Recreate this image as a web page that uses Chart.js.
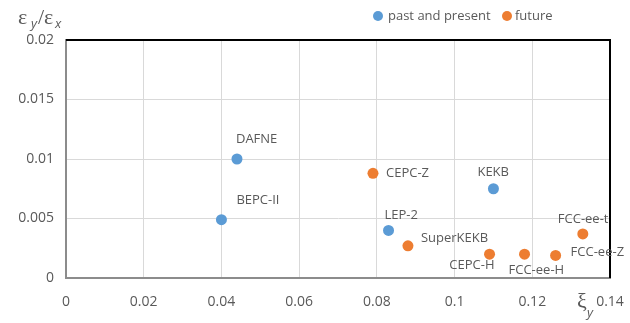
<!DOCTYPE html>
<html>
<head>
<meta charset="utf-8">
<script src="https://cdn.jsdelivr.net/npm/chart.js@4.4.0/dist/chart.umd.min.js"></script>
<style>
html, body { margin: 0; padding: 0; background: #fff; }
#contenedor { width: 630px; height: 323px; }
</style>
</head>
<body>
<div id="contenedor"><canvas id="grafico"></canvas></div>
<script>
// datos
var series = ["past and present", "future"];
var colores = ["#5B9BD5", "#ED7D31"];

var nombresPasado = ["DAFNE", "BEPC-II", "KEKB", "LEP-2"];
var xiPasado = [0.044, 0.040, 0.110, 0.083];
var epsPasado = [0.0100, 0.0049, 0.0075, 0.0040];

var nombresFuturo = ["CEPC-Z", "SuperKEKB", "CEPC-H", "FCC-ee-H", "FCC-ee-Z", "FCC-ee-t"];
var xiFuturo = [0.079, 0.088, 0.109, 0.118, 0.126, 0.133];
var epsFuturo = [0.0088, 0.0027, 0.0020, 0.0020, 0.0019, 0.0037];

var ticksX = [0, 0.02, 0.04, 0.06, 0.08, 0.1, 0.12, 0.14];
var ticksY = [0, 0.005, 0.01, 0.015, 0.02];

// desplazamiento de cada etiqueta respecto a su punto: [dx, dy, alineacion]
var posEtiquetas = {
    "DAFNE": [-1, -20, "left"],
    "BEPC-II": [15, -19, "left"],
    "KEKB": [-16, -16, "left"],
    "LEP-2": [-4, -15, "left"],
    "CEPC-Z": [13, 0, "left"],
    "SuperKEKB": [13, -8, "left"],
    "CEPC-H": [5, 11, "right"],
    "FCC-ee-H": [-16, 16, "left"],
    "FCC-ee-Z": [15, -3, "left"],
    "FCC-ee-t": [-25, -15, "left"]
};

var gris = "#595959";
var fuente = '"Open Sans", "Noto Sans", sans-serif';

function puntos(xs, ys) {
    return xs.map(function (x, i) { return { x: x, y: ys[i] }; });
}

var extras = {
    id: "extras",
    afterDraw: function (chart) {
        var ctx = chart.ctx;
        var a = chart.chartArea;
        ctx.save();

        // marco superior y derecho
        ctx.strokeStyle = "#000";
        ctx.lineWidth = 2;
        ctx.beginPath();
        ctx.moveTo(a.left, a.top);
        ctx.lineTo(a.right, a.top);
        ctx.lineTo(a.right, a.bottom);
        ctx.stroke();

        // etiquetas de los puntos
        var nombres = [nombresPasado, nombresFuturo];
        ctx.font = "13px " + fuente;
        ctx.fillStyle = gris;
        ctx.textBaseline = "middle";
        chart.data.datasets.forEach(function (ds, d) {
            var meta = chart.getDatasetMeta(d);
            meta.data.forEach(function (el, i) {
                var n = nombres[d][i];
                var p = posEtiquetas[n];
                ctx.textAlign = p[2];
                ctx.fillText(n, el.x + p[0], el.y + p[1]);
            });
        });

        // leyenda
        var ley = [[378, 388], [507, 515]];
        series.forEach(function (s, i) {
            ctx.fillStyle = colores[i];
            ctx.beginPath();
            ctx.arc(ley[i][0], 16, 5, 0, Math.PI * 2);
            ctx.fill();
            ctx.fillStyle = gris;
            ctx.textAlign = "left";
            ctx.fillText(s, ley[i][1], 16);
        });

        // titulos de los ejes
        ctx.fillStyle = gris;
        ctx.textBaseline = "alphabetic";
        ctx.font = '22px "Liberation Serif", serif';
        ctx.fillText("\u03B5", 18, 24);
        ctx.fillText("/", 38, 24);
        ctx.fillText("\u03B5", 44, 24);
        ctx.font = 'italic 13px ' + fuente;
        ctx.fillText("y", 31, 28);
        ctx.fillText("x", 55, 28);

        ctx.font = '22px "Liberation Serif", serif';
        ctx.fillText("\u03BE", 577, 308);
        ctx.font = 'italic 13px ' + fuente;
        ctx.fillText("y", 587, 317);

        ctx.restore();
    }
};

var ctx = document.getElementById("grafico").getContext("2d");
new Chart(ctx, {
    type: "scatter",
    data: {
        datasets: [{
            label: series[0],
            data: puntos(xiPasado, epsPasado),
            backgroundColor: colores[0],
            borderWidth: 0,
            pointRadius: 5.5
        }, {
            label: series[1],
            data: puntos(xiFuturo, epsFuturo),
            backgroundColor: colores[1],
            borderWidth: 0,
            pointRadius: 5.5
        }]
    },
    options: {
        responsive: true,
        maintainAspectRatio: false,
        animation: false,
        layout: { padding: { top: 40, right: 20, left: 0, bottom: 0 } },
        plugins: {
            legend: { display: false },
            tooltip: { enabled: false }
        },
        scales: {
            x: {
                type: "linear",
                min: 0,
                max: 0.14,
                afterBuildTicks: function (scale) {
                    scale.ticks = ticksX.map(function (v) { return { value: v }; });
                },
                afterFit: function (scale) {
                    scale.height = 45;
                    scale.paddingLeft = 0;
                    scale.paddingRight = 0;
                },
                ticks: {
                    color: gris,
                    font: { family: fuente, size: 14 },
                    padding: 16,
                    maxRotation: 0,
                    callback: function (v, i) { return String(ticksX[i]); }
                },
                grid: { color: "#d9d9d9", drawTicks: false },
                border: { color: "#8c8c8c", width: 2 }
            },
            y: {
                type: "linear",
                min: 0,
                max: 0.02,
                afterBuildTicks: function (scale) {
                    scale.ticks = ticksY.map(function (v) { return { value: v }; });
                },
                afterFit: function (scale) {
                    scale.width = 66;
                    scale.paddingTop = 0;
                    scale.paddingBottom = 0;
                },
                ticks: {
                    color: gris,
                    font: { family: fuente, size: 14 },
                    padding: 12,
                    callback: function (v, i) { return String(ticksY[i]); }
                },
                grid: { color: "#d9d9d9", drawTicks: false },
                border: { color: "#8c8c8c", width: 2 }
            }
        }
    },
    plugins: [extras]
});
</script>
</body>
</html>
